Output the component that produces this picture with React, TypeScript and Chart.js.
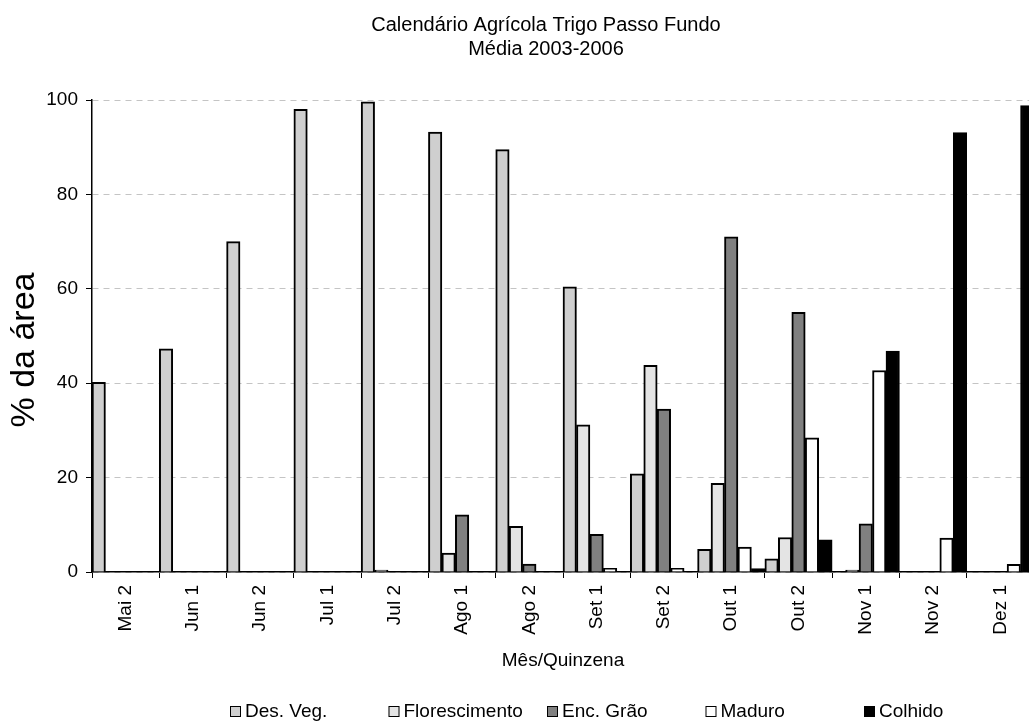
import React, { useEffect, useRef } from 'react';
import { Chart, registerables } from 'chart.js';

Chart.register(...registerables);

const categories = ['Mai 2', 'Jun 1', 'Jun 2', 'Jul 1', 'Jul 2', 'Ago 1', 'Ago 2', 'Set 1', 'Set 2', 'Out 1', 'Out 2', 'Nov 1', 'Nov 2', 'Dez 1'];
const seriesNames = ['Des. Veg.', 'Florescimento', 'Enc. Grão', 'Maduro', 'Colhido'];
const desVeg = [40.2, 47.3, 70.0, 98.0, 99.6, 93.2, 89.5, 60.4, 20.8, 4.8, 2.8, 0, 0, 0];
const florescimento = [0, 0, 0, 0, 0.4, 4.0, 9.7, 31.2, 43.8, 18.8, 7.3, 0.4, 0, 0];
const encGrao = [0, 0, 0, 0, 0, 12.1, 1.7, 8.0, 34.5, 71.0, 55.0, 10.2, 0, 0];
const maduro = [0, 0, 0, 0, 0, 0, 0, 0.8, 0.8, 5.3, 28.4, 42.7, 7.2, 1.6];
const colhido = [0, 0, 0, 0, 0, 0, 0, 0, 0, 0.7, 6.8, 46.8, 93.1, 98.8];
const seriesColors = ['#cfcfcf', '#e4e4e4', '#808080', '#ffffff', '#000000'];
const yTicks = [0, 20, 40, 60, 80, 100];
const titleLines = ['Calendário Agrícola Trigo Passo Fundo', 'Média 2003-2006'];
const xTitle = 'Mês/Quinzena';
const yTitle = '% da área';

const FONT = '"Liberation Sans", Arial, sans-serif';

const extrasPlugin = {
  id: 'extras',
  afterDraw(chart: any) {
    const ctx = chart.ctx;
    ctx.save();
    ctx.font = `34px ${FONT}`;
    ctx.fillStyle = '#000';
    ctx.textAlign = 'center';
    ctx.textBaseline = 'middle';
    ctx.translate(25, 350);
    ctx.rotate(-Math.PI / 2);
    ctx.fillText(yTitle, 0, 0);
    ctx.restore();

    ctx.save();
    ctx.font = `19px ${FONT}`;
    ctx.textBaseline = 'middle';
    ctx.textAlign = 'left';
    const y = 711;
    seriesNames.forEach((name, i) => {
      const x = 230 + i * 158.5;
      ctx.fillStyle = seriesColors[i];
      ctx.fillRect(x, y - 5, 11, 11);
      ctx.strokeStyle = '#000';
      ctx.lineWidth = 1;
      ctx.strokeRect(x + 0.5, y - 4.5, 10, 10);
      ctx.fillStyle = '#000';
      ctx.fillText(name, x + 15, y + 1);
    });
    ctx.restore();
  },
};

export default function App() {
  const canvasRef = useRef<HTMLCanvasElement | null>(null);

  useEffect(() => {
    if (!canvasRef.current) return;
    const values = [desVeg, florescimento, encGrao, maduro, colhido];
    const chart = new Chart(canvasRef.current, {
      type: 'bar',
      data: {
        labels: categories,
        datasets: seriesNames.map((name, i) => ({
          label: name,
          data: values[i],
          backgroundColor: seriesColors[i],
          borderColor: '#000',
          borderWidth: { top: 2, left: 2, right: 2, bottom: 0 },
          borderSkipped: 'start',
          barPercentage: 1,
          categoryPercentage: 1,
        })),
      },
      options: {
        animation: false,
        responsive: true,
        maintainAspectRatio: false,
        layout: { padding: { left: 0, right: 0, top: 0, bottom: 40 } },
        plugins: {
          legend: { display: false },
          tooltip: { enabled: false },
          title: {
            display: true,
            text: titleLines,
            color: '#000',
            font: { family: FONT, size: 20, weight: 'normal', lineHeight: 1.2 },
            padding: { top: 13, bottom: 39 },
          },
        },
        scales: {
          x: {
            type: 'category',
            offset: true,
            grid: {
              offset: true,
              drawOnChartArea: false,
              drawTicks: true,
              tickLength: 6,
              tickColor: '#000',
              color: '#000',
            },
            border: { color: '#000', width: 1.5 },
            ticks: {
              font: { family: FONT, size: 19 },
              color: '#000',
              maxRotation: 90,
              minRotation: 90,
              autoSkip: false,
              padding: 7,
            },
            title: {
              display: true,
              text: xTitle,
              color: '#000',
              font: { family: FONT, size: 19, lineHeight: 1.2 },
              padding: { top: 0, bottom: 13 },
            },
            afterFit: (s: any) => {
              s.height = 113;
            },
          },
          y: {
            min: 0,
            max: 100,
            afterBuildTicks: (s: any) => {
              s.ticks = yTicks.map((v) => ({ value: v }));
            },
            grid: {
              color: '#c4c4c4',
              tickColor: '#000',
              tickLength: 6,
              tickBorderDash: [],
              lineWidth: 1,
            },
            border: { color: '#000', width: 1.5, dash: [6, 5] },
            ticks: {
              font: { family: FONT, size: 19 },
              color: '#000',
              padding: 8,
            },
            afterFit: (s: any) => {
              s.width = 92;
            },
          },
          y2: {
            position: 'right',
            display: true,
            grid: { display: false, drawOnChartArea: false },
            border: { display: false },
            ticks: { display: false },
            afterFit: (s: any) => {
              s.width = 58;
            },
          },
        },
      },
      plugins: [extrasPlugin],
    });
    return () => chart.destroy();
  }, []);

  return (
    <div style={{ position: 'fixed', left: 0, top: 0, width: 1029, height: 725, overflow: 'hidden', background: '#fff' }}>
      <div style={{ position: 'relative', width: 1092, height: 725 }}>
        <canvas ref={canvasRef} />
      </div>
    </div>
  );
}
